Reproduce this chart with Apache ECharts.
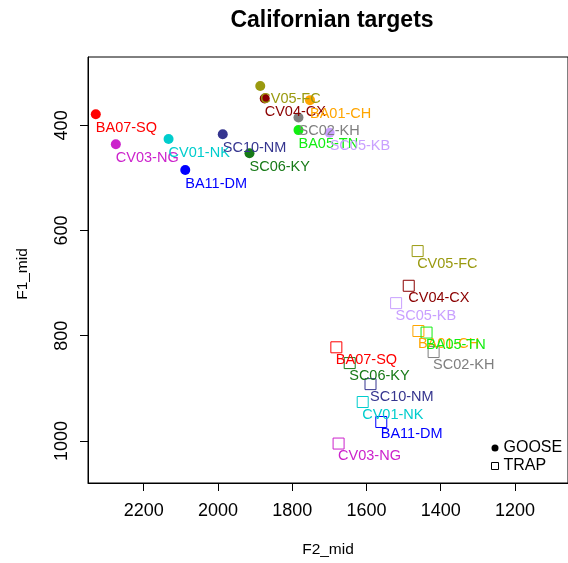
<!DOCTYPE html>
<html>
<head>
<meta charset="utf-8">
<script src="https://cdn.jsdelivr.net/npm/echarts@6/dist/echarts.min.js"></script>
<style>html,body{margin:0;padding:0;background:#fff}#c{width:568px;height:563px}</style>
</head>
<body>
<div id="c"></div>
<script>
var categories = ['BA07-SQ','CV03-NG','CV01-NK','BA11-DM','SC10-NM','SC06-KY','CV05-FC','CV04-CX','BA01-CH','SC02-KH','BA05-TN','SC05-KB'];
var colors = ['#FF0000','#CC22CC','#00CDCD','#0000FF','#35358F','#177A17','#9A9A10','#8B0000','#FFA500','#7F7F7F','#11EE11','#C9A0FF'];
var gooseF2 = [2329, 2275, 2133, 2088, 1987, 1915, 1886, 1874, 1752, 1783, 1783, 1699];
var gooseF1 = [379, 436, 426, 485, 417, 453, 325, 349, 352, 385, 409, 414];
var trapF2 = [1681, 1675, 1610, 1560, 1589, 1645, 1462, 1486, 1460, 1419, 1438, 1520];
var trapF1 = [822, 1005, 926, 964, 892, 852, 639, 705, 791, 831, 794, 738];
var xTicks = [1200, 1400, 1600, 1800, 2000, 2200];
var yTicks = [400, 600, 800, 1000];

var FONT = '"Liberation Sans", Arial, sans-serif';

function gooseData() {
  return categories.map(function (name, i) {
    return {
      name: name,
      value: [gooseF2[i], gooseF1[i]],
      itemStyle: { color: colors[i], opacity: 1 },
      label: { color: colors[i] }
    };
  });
}
function trapData() {
  return categories.map(function (name, i) {
    return {
      name: name,
      value: [trapF2[i], trapF1[i]],
      itemStyle: { color: 'rgba(0,0,0,0)', borderColor: colors[i], borderWidth: 1, opacity: 1 },
      label: { color: colors[i] }
    };
  });
}
function plain(v) { return String(v); }

var chart = echarts.init(document.getElementById('c'), null, { renderer: 'canvas' });
chart.setOption({
  animation: false,
  backgroundColor: '#fff',
  title: {
    text: 'Californian targets',
    left: 332,
    textAlign: 'center',
    top: 9,
    padding: 0,
    textStyle: { fontFamily: FONT, fontWeight: 'bold', fontSize: 23, color: '#000' }
  },
  legend: {
    orient: 'vertical',
    left: 491,
    top: 440,
    padding: 0,
    itemWidth: 7,
    itemHeight: 7,
    itemGap: 2,
    textStyle: { fontFamily: FONT, fontSize: 16, color: '#000' },
    data: [
      { name: 'GOOSE', icon: 'circle', itemStyle: { color: '#000', borderWidth: 0 } },
      { name: 'TRAP', icon: 'rect', itemStyle: { color: '#fff', borderColor: '#000', borderWidth: 1 } }
    ]
  },
  grid: {
    left: 88, top: 57, right: -5, bottom: 77,
    show: true, borderColor: '#000', borderWidth: 1, backgroundColor: 'transparent'
  },
  xAxis: {
    type: 'value',
    inverse: true,
    min: 1057,
    max: 2350,
    position: 'bottom',
    name: 'F2_mid',
    nameLocation: 'middle',
    nameGap: 59,
    nameTextStyle: { fontFamily: FONT, fontSize: 15.5, color: '#000' },
    axisLine: { show: true, onZero: false, lineStyle: { color: '#000', width: 1 } },
    axisTick: { show: true, inside: false, length: 8, lineStyle: { color: '#000' }, customValues: xTicks },
    axisLabel: { fontFamily: FONT, fontSize: 18, color: '#000', margin: 19, formatter: plain, customValues: xTicks },
    splitLine: { show: false }
  },
  yAxis: {
    type: 'value',
    inverse: true,
    min: 270,
    max: 1080,
    position: 'left',
    name: 'F1_mid',
    nameLocation: 'middle',
    nameGap: 57,
    nameTextStyle: { fontFamily: FONT, fontSize: 15.5, color: '#000', padding: [0, 8, 0, 0] },
    axisLine: { show: true, onZero: false, lineStyle: { color: '#000', width: 1 } },
    axisTick: { show: true, inside: false, length: 8, lineStyle: { color: '#000' }, customValues: yTicks },
    axisLabel: { fontFamily: FONT, fontSize: 18, color: '#000', margin: 17, rotate: 90, formatter: plain, customValues: yTicks },
    splitLine: { show: false }
  },
  series: [
    {
      name: 'GOOSE',
      type: 'scatter',
      symbol: 'circle',
      symbolSize: 10,
      itemStyle: { color: '#000', opacity: 1 },
      label: {
        show: true,
        formatter: '{b}',
        position: [5, 18.5],
        align: 'left',
        verticalAlign: 'middle',
        fontFamily: FONT,
        fontSize: 14.5
      },
      emphasis: { disabled: true },
      data: gooseData()
    },
    {
      name: 'TRAP',
      type: 'scatter',
      symbol: 'rect',
      symbolSize: 11,
      itemStyle: { color: '#fff', borderColor: '#000', borderWidth: 1, opacity: 1 },
      label: {
        show: true,
        formatter: '{b}',
        position: [5.5, 18.5],
        align: 'left',
        verticalAlign: 'middle',
        fontFamily: FONT,
        fontSize: 14.5
      },
      emphasis: { disabled: true },
      data: trapData()
    }
  ]
});
</script>
</body>
</html>
